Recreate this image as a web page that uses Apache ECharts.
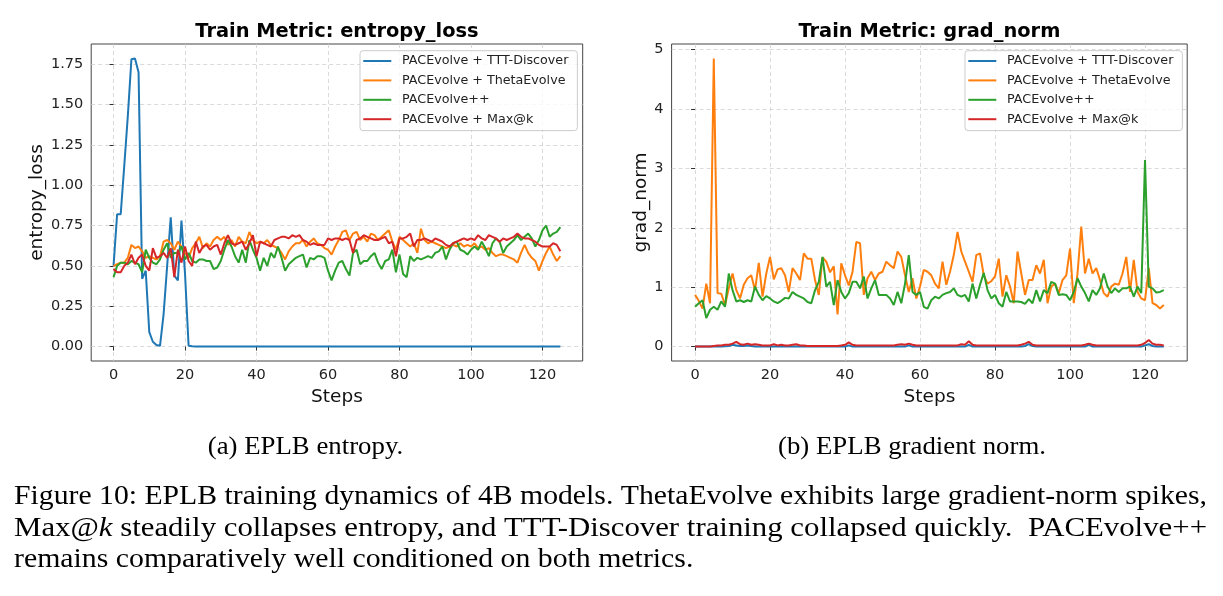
<!DOCTYPE html>
<html>
<head>
<meta charset="utf-8">
<script src="https://cdn.jsdelivr.net/npm/echarts@6/dist/echarts.min.js"></script>
<style>
html,body{margin:0;padding:0;background:#fff;}
#c{width:1223px;height:596px;}
</style>
</head>
<body>
<div id="c"></div>
<script>
// ---------------- data ----------------
const seriesNames = ['PACEvolve + TTT-Discover', 'PACEvolve + ThetaEvolve', 'PACEvolve++', 'PACEvolve + Max@k'];
const xTicks = [0, 20, 40, 60, 80, 100, 120];
const entropyTicks = [0, 0.25, 0.5, 0.75, 1.0, 1.25, 1.5, 1.75];
const gradTicks = [0, 1, 2, 3, 4, 5];

const entropyTTT = [
 0.50,0.82,0.82,1.12,1.43,1.78,1.785,1.70,0.42,0.47,
 0.09,0.03,0.01,0.005,0.20,0.50,0.80,0.44,0.41,0.78,
 0.45,0.005,0.002,0,0,0,0,0,0,0,
 0,0,0,0,0,0,0,0,0,0,
 0,0,0,0,0,0,0,0,0,0,
 0,0,0,0,0,0,0,0,0,0,
 0,0,0,0,0,0,0,0,0,0,
 0,0,0,0,0,0,0,0,0,0,
 0,0,0,0,0,0,0,0,0,0,
 0,0,0,0,0,0,0,0,0,0,
 0,0,0,0,0,0,0,0,0,0,
 0,0,0,0,0,0,0,0,0,0,
 0,0,0,0,0,0
];
const entropyTheta = [
 0.50,0.51,0.52,0.52,0.55,0.63,0.61,0.62,0.59,0.55,
 0.56,0.55,0.54,0.56,0.65,0.66,0.64,0.60,0.65,0.62,
 0.58,0.55,0.61,0.64,0.68,0.61,0.64,0.62,0.66,0.68,
 0.66,0.68,0.63,0.66,0.62,0.68,0.65,0.64,0.71,0.66,
 0.64,0.65,0.64,0.66,0.63,0.62,0.61,0.58,0.54,0.59,
 0.62,0.64,0.64,0.66,0.62,0.65,0.67,0.64,0.63,0.61,
 0.60,0.57,0.62,0.66,0.71,0.72,0.66,0.70,0.71,0.66,
 0.68,0.65,0.70,0.69,0.66,0.68,0.70,0.72,0.65,0.60,
 0.68,0.66,0.64,0.62,0.64,0.58,0.73,0.66,0.64,0.65,
 0.64,0.63,0.62,0.61,0.62,0.63,0.62,0.64,0.62,0.63,
 0.62,0.64,0.61,0.62,0.60,0.61,0.58,0.56,0.57,0.57,
 0.56,0.55,0.54,0.52,0.58,0.63,0.58,0.55,0.53,0.47,
 0.53,0.58,0.62,0.57,0.53,0.56
];
const entropyPP = [
 0.43,0.50,0.52,0.52,0.51,0.53,0.52,0.51,0.46,0.60,
 0.55,0.52,0.51,0.54,0.60,0.64,0.55,0.58,0.58,0.62,
 0.54,0.58,0.53,0.52,0.54,0.54,0.53,0.53,0.48,0.49,
 0.53,0.60,0.66,0.62,0.56,0.52,0.60,0.52,0.66,0.60,
 0.55,0.47,0.55,0.50,0.58,0.55,0.62,0.55,0.47,0.51,
 0.53,0.55,0.56,0.57,0.49,0.55,0.54,0.56,0.56,0.55,
 0.47,0.41,0.47,0.52,0.53,0.48,0.44,0.58,0.60,0.51,
 0.53,0.53,0.56,0.58,0.52,0.48,0.53,0.54,0.60,0.46,
 0.57,0.45,0.43,0.56,0.53,0.55,0.54,0.55,0.56,0.55,
 0.58,0.59,0.62,0.54,0.60,0.64,0.65,0.60,0.59,0.57,
 0.60,0.62,0.60,0.65,0.61,0.56,0.64,0.67,0.65,0.58,
 0.62,0.64,0.66,0.69,0.66,0.68,0.70,0.67,0.62,0.66,
 0.72,0.75,0.68,0.70,0.71,0.74
];
const entropyMax = [
 0.48,0.46,0.46,0.50,0.52,0.57,0.51,0.55,0.57,0.50,
 0.47,0.61,0.55,0.56,0.58,0.55,0.61,0.43,0.60,0.52,
 0.62,0.53,0.50,0.65,0.58,0.62,0.63,0.60,0.62,0.63,
 0.57,0.64,0.69,0.64,0.63,0.64,0.65,0.60,0.64,0.69,
 0.56,0.65,0.64,0.63,0.62,0.66,0.67,0.68,0.68,0.67,
 0.69,0.68,0.69,0.66,0.65,0.63,0.64,0.63,0.63,0.63,
 0.67,0.66,0.67,0.67,0.66,0.67,0.66,0.58,0.66,0.67,
 0.69,0.68,0.67,0.66,0.66,0.67,0.68,0.64,0.65,0.56,
 0.67,0.67,0.68,0.70,0.62,0.66,0.66,0.67,0.66,0.65,
 0.67,0.66,0.65,0.63,0.62,0.64,0.65,0.66,0.67,0.66,
 0.67,0.66,0.69,0.67,0.66,0.69,0.68,0.67,0.65,0.67,
 0.66,0.67,0.68,0.70,0.68,0.67,0.67,0.66,0.65,0.63,
 0.62,0.62,0.62,0.64,0.63,0.59
];

const gradTTT = [
 0,0,0,0,0,0,0,0,0.005,0.01,
 0.03,0.02,0.01,0.01,0.02,0.01,0,0,0,0,
 0,0,0,0,0,0,0,0,0,0,
 0,0,0,0,0,0,0,0,0,0,
 0,0.02,0,0,0,0,0,0,0,0,
 0,0,0,0,0,0,0,0.02,0,0,
 0,0,0,0,0,0,0,0,0,0,
 0,0,0,0.03,0,0,0,0,0,0,
 0,0,0,0,0,0,0,0,0.01,0.04,
 0.01,0,0,0,0,0,0,0,0,0,
 0,0,0,0,0,0.03,0,0,0,0,
 0,0,0,0,0,0,0,0,0,0,
 0.02,0.04,0.01,0,0,0
];
const gradTheta = [
 0.87,0.77,0.64,1.06,0.73,4.85,0.90,0.89,0.70,0.98,
 1.23,0.95,0.81,1.04,1.15,1.20,0.95,1.41,0.84,1.23,
 1.51,1.13,1.30,1.32,1.20,0.92,1.32,1.23,1.12,1.57,
 1.48,1.48,1.12,0.87,1.50,1.43,1.25,1.35,0.54,1.40,
 1.20,1.03,1.26,1.76,1.74,0.87,1.15,1.26,1.12,1.23,
 1.26,1.43,1.37,1.32,1.60,1.51,1.20,0.92,1.15,0.81,
 1.01,1.29,1.26,1.20,1.06,0.98,1.43,1.04,1.26,1.54,
 1.93,1.60,1.43,1.26,1.09,1.54,1.57,1.20,1.06,1.10,
 1.18,1.48,0.84,1.20,1.01,0.73,1.60,1.23,0.87,1.12,
 1.12,1.37,1.23,1.46,0.73,1.01,1.06,0.90,1.12,1.20,
 1.65,0.73,1.23,2.02,1.23,1.48,1.23,1.32,1.12,0.90,
 0.84,1.01,1.06,1.04,1.23,1.51,0.92,1.46,0.92,0.81,
 0.78,1.32,0.73,0.70,0.64,0.70
];
const gradPP = [
 0.67,0.73,0.78,0.48,0.62,0.67,0.62,0.76,0.67,1.23,
 0.95,0.76,0.78,0.75,0.78,0.76,1.01,0.87,0.78,0.85,
 0.81,0.76,0.73,0.77,0.82,0.81,0.92,0.87,0.84,0.81,
 0.75,0.73,0.95,1.09,1.51,1.01,1.09,0.70,1.12,0.92,
 0.81,0.90,1.09,1.09,0.98,1.18,0.81,0.98,1.12,0.87,
 0.87,0.87,0.81,0.70,0.92,0.73,1.06,1.54,0.92,0.87,
 0.92,0.67,0.64,0.78,0.84,0.81,0.87,0.90,0.92,0.98,
 0.87,0.84,0.87,0.76,1.06,0.81,1.04,1.24,0.95,0.81,
 0.87,0.73,0.67,0.92,0.76,0.76,0.76,0.75,0.72,0.80,
 0.73,0.95,0.76,0.95,0.90,1.09,1.06,0.87,0.88,0.87,
 0.78,0.92,1.15,1.01,0.90,0.76,0.95,0.87,0.98,1.23,
 1.01,0.90,0.98,0.92,0.98,0.98,1.01,0.84,1.01,0.90,
 3.14,1.01,0.98,0.91,0.92,0.95
];
const gradMax = [
 0,0,0,0,0,0.01,0.02,0.02,0.03,0.03,
 0.05,0.08,0.04,0.03,0.05,0.03,0.04,0.03,0.02,0.02,
 0.02,0.04,0.02,0.03,0.02,0.02,0.03,0.04,0.02,0.02,
 0.01,0.01,0.01,0.01,0.01,0.01,0.01,0.01,0.01,0.02,
 0.03,0.07,0.03,0.02,0.02,0.02,0.02,0.02,0.02,0.02,
 0.02,0.02,0.02,0.02,0.03,0.04,0.03,0.05,0.03,0.02,
 0.02,0.02,0.02,0.02,0.02,0.02,0.02,0.02,0.02,0.02,
 0.02,0.04,0.03,0.09,0.03,0.02,0.02,0.02,0.02,0.02,
 0.02,0.02,0.02,0.02,0.02,0.02,0.02,0.03,0.05,0.08,
 0.03,0.02,0.02,0.02,0.02,0.02,0.02,0.02,0.02,0.02,
 0.02,0.02,0.02,0.02,0.03,0.05,0.03,0.02,0.02,0.02,
 0.02,0.02,0.02,0.02,0.02,0.02,0.02,0.02,0.02,0.03,
 0.06,0.11,0.05,0.03,0.03,0.02
];

const panelTitles = ['Train Metric: entropy_loss', 'Train Metric: grad_norm'];
const yNames = ['entropy_loss', 'grad_norm'];
const xName = 'Steps';
const subCaptions = ['(a) EPLB entropy.', '(b) EPLB gradient norm.'];
const captionLines = [
  'Figure 10: EPLB training dynamics of 4B models. ThetaEvolve exhibits large gradient-norm spikes,',
  ['Max@', 'k', ' steadily collapses entropy, and TTT-Discover training collapsed quickly.  PACEvolve++'],
  'remains comparatively well conditioned on both metrics.'
];

// ---------------- layout / style ----------------
const colors = ['#1f77b4', '#ff7f0e', '#2ca02c', '#d62728'];
const SANS = 'DejaVu Sans';
const SERIF = 'Liberation Serif';
const grids = [
  {left: 91.2, top: 44, width: 491.5, height: 317},
  {left: 671.6, top: 44, width: 515.6, height: 317}
];
const yRanges = [[-0.0893, 1.8743], [-0.2425, 5.0925]];

const chart = echarts.init(document.getElementById('c'), null, {renderer: 'canvas'});

function xAxisDef(i) {
  return {
    type: 'value', gridIndex: i, min: -6.25, max: 131.25,
    name: xName, nameLocation: 'middle', nameGap: 22,
    nameTextStyle: {fontFamily: SANS, fontSize: 18.5, color: '#111', verticalAlign: 'top'},
    axisLine: {show: false},
    axisTick: {show: true, length: 4, customValues: xTicks, lineStyle: {color: '#333', width: 1}},
    axisLabel: {customValues: xTicks, fontFamily: SANS, fontSize: 14.5, color: '#222', margin: 7},
    splitLine: {show: true, lineStyle: {color: '#d0d0d0', width: 0.8, type: [4, 3]}}
  };
}
function yAxisDef(i, ticks, fmt, gap) {
  return {
    type: 'value', gridIndex: i, min: yRanges[i][0], max: yRanges[i][1],
    name: yNames[i], nameLocation: 'middle', nameGap: gap, nameRotate: 90,
    nameTextStyle: {fontFamily: SANS, fontSize: 18.5, color: '#111'},
    axisLine: {show: false},
    axisTick: {show: true, length: 4, customValues: ticks, lineStyle: {color: '#333', width: 1}},
    axisLabel: {customValues: ticks, fontFamily: SANS, fontSize: 14.5, color: '#222', margin: 8, formatter: fmt},
    splitLine: {show: true, lineStyle: {color: '#d0d0d0', width: 0.8, type: [4, 3]}}
  };
}
function lineSeries(name, values, idx, gi) {
  return {
    name: name, type: 'line', xAxisIndex: gi, yAxisIndex: gi,
    data: values.map((v, i) => [i, v]),
    showSymbol: false, symbol: 'none', clip: true,
    lineStyle: {color: colors[idx], width: 2},
    itemStyle: {color: colors[idx]},
    emphasis: {disabled: true}, z: 2 + idx
  };
}
function legendDef(left) {
  return {
    left: left, top: 50.7, orient: 'vertical', data: seriesNames,
    icon: 'rect', itemWidth: 28, itemHeight: 2, itemGap: 5.4,
    padding: [3.3, 9, 4.4, 3.3],
    backgroundColor: 'rgba(255,255,255,0.8)', borderColor: '#cccccc', borderWidth: 1, borderRadius: 3,
    selectedMode: false,
    textStyle: {fontFamily: SANS, fontSize: 12.7, color: '#222', lineHeight: 14, padding: [0, 0, 0, 5.7]}
  };
}

// caption measurement for justified lines
const mctx = document.createElement('canvas').getContext('2d');
function textW(t, font) { mctx.font = font; return mctx.measureText(t).width; }
const capSize = 29.8, subSize = 26.8;
const capFont = capSize + 'px "' + SERIF + '"';
const capItFont = 'italic ' + capSize + 'px "' + SERIF + '"';
const capLeft = 14, capRight = 1207;
const capY = [497, 528.5, 560];
const capScaleY = 0.93;

const graphics = [];
// subcaptions
graphics.push({type: 'text', x: 305.5, y: 447, scaleY: capScaleY,
  style: {text: subCaptions[0], font: subSize + 'px "' + SERIF + '"', fill: '#000', align: 'center', verticalAlign: 'middle'}});
graphics.push({type: 'text', x: 912, y: 447, scaleY: capScaleY,
  style: {text: subCaptions[1], font: subSize + 'px "' + SERIF + '"', fill: '#000', align: 'center', verticalAlign: 'middle'}});
// line 1 (justified)
{
  const w = textW(captionLines[0], capFont);
  graphics.push({type: 'text', x: capLeft, y: capY[0], scaleX: (capRight - capLeft) / w, scaleY: capScaleY,
    style: {text: captionLines[0], font: capFont, fill: '#000', align: 'left', verticalAlign: 'middle'}});
}
// line 2 (justified, italic k)
{
  const p = captionLines[1];
  const w = textW(p[0], capFont) + textW(p[1], capItFont) + textW(p[2], capFont);
  graphics.push({type: 'text', x: capLeft, y: capY[1], scaleX: (capRight - capLeft) / w, scaleY: capScaleY,
    style: {text: '{r|' + p[0] + '}{i|' + p[1] + '}{r|' + p[2] + '}', fill: '#000', align: 'left', verticalAlign: 'middle',
      rich: {r: {fontFamily: SERIF, fontSize: capSize, fill: '#000'}, i: {fontFamily: SERIF, fontSize: capSize, fontStyle: 'italic', fill: '#000'}}}});
}
// line 3 (ragged)
graphics.push({type: 'text', x: capLeft, y: capY[2], scaleY: capScaleY,
  style: {text: captionLines[2], font: capFont, fill: '#000', align: 'left', verticalAlign: 'middle'}});

const option = {
  animation: false,
  backgroundColor: '#ffffff',
  title: [
    {text: panelTitles[0], left: grids[0].left + grids[0].width / 2, top: 22, textAlign: 'center', padding: 0,
     textStyle: {fontFamily: SANS, fontSize: 19.4, fontWeight: 'bold', color: '#000'}},
    {text: panelTitles[1], left: grids[1].left + grids[1].width / 2, top: 22, textAlign: 'center', padding: 0,
     textStyle: {fontFamily: SANS, fontSize: 19.4, fontWeight: 'bold', color: '#000'}}
  ],
  grid: grids.map(g => Object.assign({show: true, borderColor: '#444', borderWidth: 1, backgroundColor: 'transparent', containLabel: false}, g)),
  legend: [legendDef(360), legendDef(965)],
  xAxis: [xAxisDef(0), xAxisDef(1)],
  yAxis: [yAxisDef(0, entropyTicks, v => v.toFixed(2), 40), yAxisDef(1, gradTicks, v => String(v), 14)],
  series: [
    lineSeries(seriesNames[0], entropyTTT, 0, 0),
    lineSeries(seriesNames[1], entropyTheta, 1, 0),
    lineSeries(seriesNames[2], entropyPP, 2, 0),
    lineSeries(seriesNames[3], entropyMax, 3, 0),
    lineSeries(seriesNames[0], gradTTT, 0, 1),
    lineSeries(seriesNames[1], gradTheta, 1, 1),
    lineSeries(seriesNames[2], gradPP, 2, 1),
    lineSeries(seriesNames[3], gradMax, 3, 1)
  ],
  graphic: graphics
};
chart.setOption(option);
</script>
</body>
</html>
